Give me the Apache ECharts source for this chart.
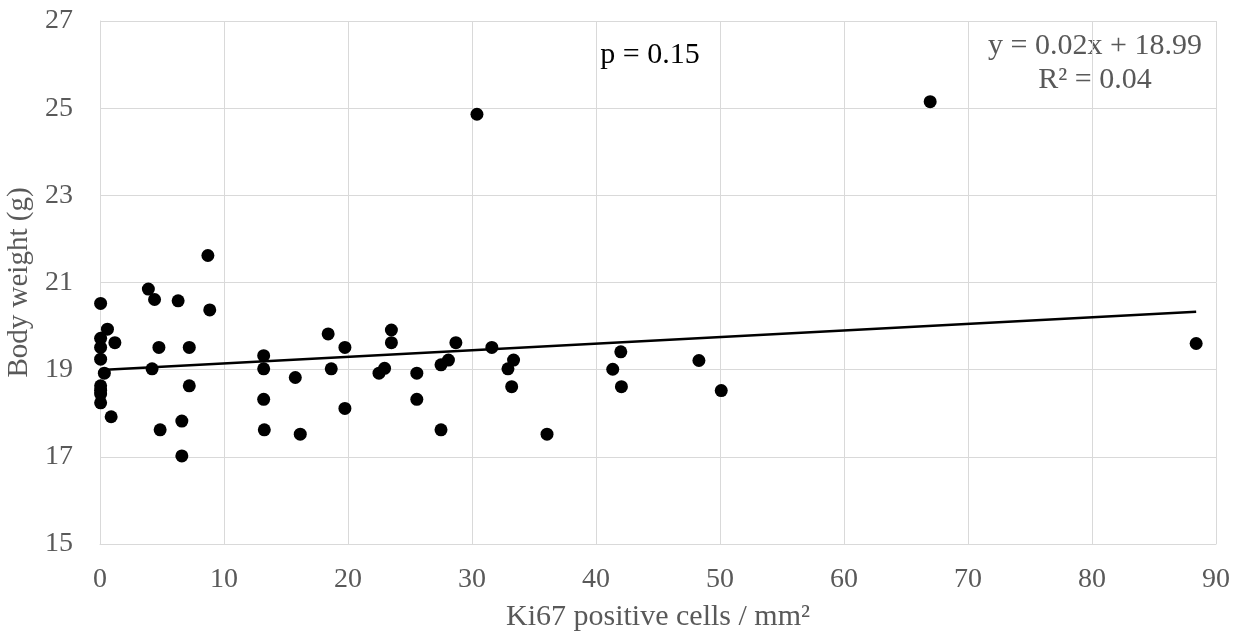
<!DOCTYPE html>
<html>
<head>
<meta charset="utf-8">
<script src="https://cdn.jsdelivr.net/npm/echarts@6/dist/echarts.min.js"></script>
<style>html,body{margin:0;padding:0;background:#fff}#c{width:1248px;height:639px}</style>
</head>
<body>
<div id="c"></div>
<script>
const ki67 = [0.05,0.6,0.05,0.05,1.2,0.05,0.35,0.05,0.05,0.05,0.05,0.9,
  3.9,4.4,4.2,4.75,4.85,6.3,6.6,6.6,7.2,7.2,8.7,8.85,
  13.2,13.2,13.2,13.25,15.75,16.15,18.4,18.65,19.75,19.75,
  22.5,22.95,23.5,23.5,25.55,25.55,27.5,28.1,28.7,27.5,
  30.4,31.6,32.9,33.35,33.2,36.05,41.35,42.0,42.05,48.3,50.1,66.95,88.4];
const bodyWeight = [20.52,19.93,19.72,19.51,19.62,19.24,18.92,18.63,18.53,18.44,18.24,17.92,
  20.85,20.61,19.02,19.51,17.62,20.58,17.82,17.02,19.51,18.63,21.62,20.37,
  19.32,19.02,18.32,17.62,18.82,17.52,19.82,19.02,19.51,18.11,
  18.92,19.03,19.91,19.62,18.92,18.32,19.11,19.22,19.62,17.62,
  24.86,19.51,19.02,19.22,18.61,17.52,19.01,19.41,18.61,19.21,18.52,25.15,19.6];
const trendX = [0.05, 88.4];
const trendY = [18.99, 20.33];
const xTicks = [0,10,20,30,40,50,60,70,80,90];
const yTicks = [15,17,19,21,23,25,27];
const pText = 'p = 0.15';
const eqText = 'y = 0.02x + 18.99';
const r2Text = 'R² = 0.04';

const font = '"Liberation Serif", "Times New Roman", serif';
const chart = echarts.init(document.getElementById('c'));
chart.setOption({
  animation: false,
  backgroundColor: '#fff',
  grid: {left: 100, right: 32, top: 21, bottom: 95, containLabel: false, outerBoundsMode: 'none'},
  xAxis: {
    type: 'value', min: 0, max: 90, interval: 10,
    name: 'Ki67 positive cells / mm²', nameLocation: 'middle', nameGap: 58,
    nameTextStyle: {fontFamily: font, fontSize: 30, color: '#595959'},
    axisLine: {show: true, lineStyle: {color: '#d9d9d9', width: 1}},
    axisTick: {show: false},
    axisLabel: {fontFamily: font, fontSize: 28, color: '#595959', margin: 22},
    splitLine: {show: true, lineStyle: {color: '#d9d9d9', width: 1}}
  },
  yAxis: {
    type: 'value', min: 15, max: 27, interval: 2,
    name: 'Body weight (g)', nameLocation: 'middle', nameGap: 59,
    nameTextStyle: {fontFamily: font, fontSize: 29, color: '#595959'},
    axisLine: {show: true, lineStyle: {color: '#d9d9d9', width: 1}},
    axisTick: {show: false},
    axisLabel: {fontFamily: font, fontSize: 28, color: '#595959', margin: 27},
    splitLine: {show: true, lineStyle: {color: '#d9d9d9', width: 1}}
  },
  series: [
    {
      type: 'scatter', symbol: 'circle', symbolSize: 13,
      itemStyle: {color: '#000', opacity: 1},
      data: ki67.map((x, i) => [x, bodyWeight[i]]), z: 3
    },
    {
      type: 'line', showSymbol: false, symbol: 'none',
      lineStyle: {color: '#000', width: 2.5},
      data: trendX.map((x, i) => [x, trendY[i]]), z: 4
    }
  ],
  graphic: [
    {type: 'text', x: 650, y: 55, style: {text: pText, font: '30px ' + font, fill: '#000', textAlign: 'center', textVerticalAlign: 'middle'}},
    {type: 'text', x: 1095, y: 46, style: {text: eqText, font: '30px ' + font, fill: '#595959', textAlign: 'center', textVerticalAlign: 'middle'}},
    {type: 'text', x: 1095, y: 80, style: {text: r2Text, font: '30px ' + font, fill: '#595959', textAlign: 'center', textVerticalAlign: 'middle'}}
  ]
});
</script>
</body>
</html>
